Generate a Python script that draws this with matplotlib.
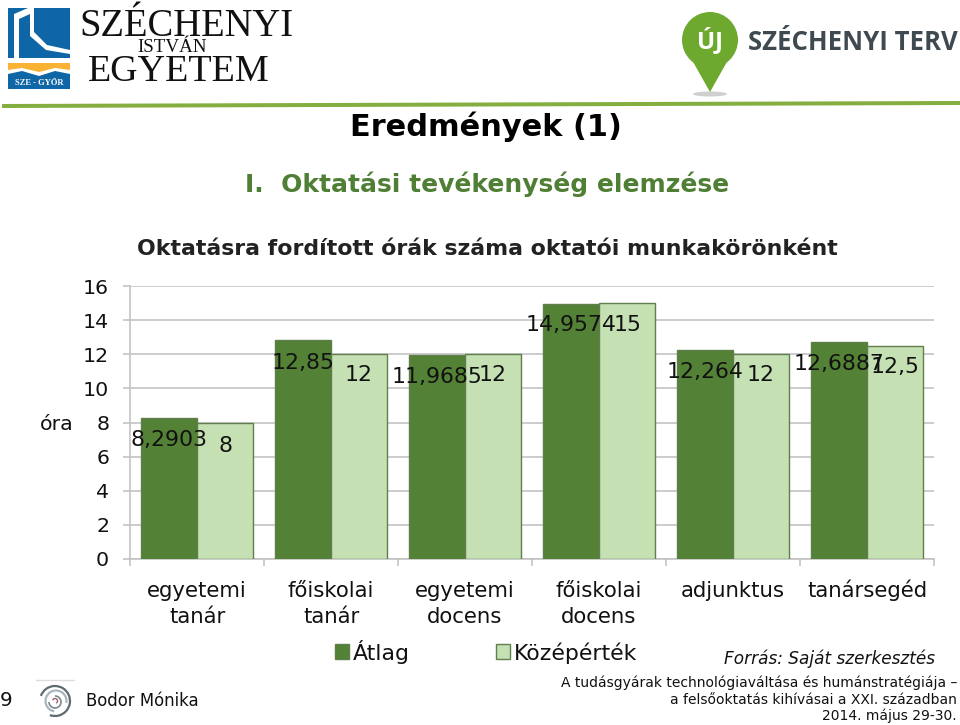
import numpy as np
import matplotlib
matplotlib.use('Agg')
import matplotlib.pyplot as plt
from matplotlib.patches import Rectangle, Circle, Polygon, Ellipse, Arc

kategoriak = ['egyetemi\ntanár', 'főiskolai\ntanár', 'egyetemi\ndocens',
              'főiskolai\ndocens', 'adjunktus', 'tanársegéd']
atlag = [8.2903, 12.85, 11.9685, 14.9574, 12.264, 12.6887]
kozeperek = [8, 12, 12, 15, 12, 12.5]
atlag_cimke = ['8,2903', '12,85', '11,9685', '14,9574', '12,264', '12,6887']
kozep_cimke = ['8', '12', '12', '15', '12', '12,5']
y_tick = list(range(0, 17, 2))

SOTET = '#538135'
VILAGOS = '#C5E0B3'
KERET = '#5F7F4C'
RACS = '#BFBFBF'
KEK = '#0F66A6'

W, H = 960, 725
plt.rcParams['font.family'] = ['DejaVu Sans']


def px(size):
    # pixel -> pont
    return size * 0.72


fig = plt.figure(figsize=(W / 100, H / 100), dpi=100, facecolor='white')

# Háttér réteg pixel koordinátákkal: logók, címek, lábléc
bg = fig.add_axes([0, 0, 1, 1])
bg.set_xlim(0, W)
bg.set_ylim(H, 0)
bg.axis('off')

# Széchenyi István Egyetem logó
bg.add_patch(Rectangle((8, 8), 62, 50, color=KEK, lw=0))
bg.add_patch(Polygon([(8, 58), (14, 58), (14, 14), (28, 8), (34, 8), (34, 32), (47, 45), (70, 50),
                      (70, 54), (46, 50), (30, 36), (30, 14), (19, 19), (19, 58), (8, 58)],
                     closed=True, color='white', lw=0))
bg.add_patch(Polygon([(8, 63), (70, 63), (70, 70), (55, 68), (39, 72), (22, 68), (8, 70)],
                     closed=True, color='#F9B233', lw=0))
bg.add_patch(Polygon([(8, 74), (22, 71), (39, 76), (55, 71), (70, 74), (70, 89), (8, 89)],
                     closed=True, color=KEK, lw=0))
bg.text(39, 83, 'SZE - GYŐR', color='white', fontsize=px(8.5), ha='center', va='center',
        family='Liberation Serif', weight='bold')
bg.text(79, 26, 'SZÉCHENYI', fontsize=px(38.5), ha='left', va='center', family='Liberation Serif',
        color='#111111')
bg.text(172, 47, 'ISTVÁN', fontsize=px(19), ha='center', va='center', family='Liberation Serif',
        color='#111111')
bg.text(179, 72, 'EGYETEM', fontsize=px(38), ha='center', va='center', family='Liberation Serif',
        color='#111111')

# Széchenyi Terv logó
bg.add_patch(Ellipse((710, 94), 34, 5, color='#CFCFCF', lw=0))
bg.add_patch(Circle((710, 40), 28, color='#6DA92F', lw=0))
bg.add_patch(Polygon([(692, 60), (728, 60), (710, 92)], closed=True, color='#6DA92F', lw=0))
bg.text(710, 41, 'ÚJ', color='white', fontsize=px(24), ha='center', va='center', family='Open Sans',
        weight='bold')
bg.text(748, 42, 'SZÉCHENYI TERV', color='#3F4A50', fontsize=px(25.7), ha='left', va='center',
        family='Open Sans', weight='bold')
bg.add_patch(Polygon([(2, 104), (960, 101), (960, 105), (2, 108)], closed=True, color='#84AE3F', lw=0))

# Címek
bg.text(486, 127, 'Eredmények (1)', fontsize=px(30.4), weight='bold', ha='center', va='center',
        color='black')
bg.text(487, 184, 'I.  Oktatási tevékenység elemzése', fontsize=px(25), weight='bold', ha='center',
        va='center', color='#4F7F35')
bg.text(487, 249, 'Oktatásra fordított órák száma oktatói munkakörönként', fontsize=px(22),
        weight='bold', ha='center', va='center', color='#222222')
bg.text(57, 424, 'óra', fontsize=px(20.5), ha='center', va='center', color='#111111')

# Lábléc
bg.text(6, 700, '9', fontsize=px(20), ha='center', va='center', color='#111111')
bg.plot([36, 74], [680, 680], color='#DDDDDD', lw=1)
for cx, cy, d, t1, t2, c, lw in [(55, 701, 30, 200, 110, '#5F6B72', 1.6),
                                 (56, 701, 21, 100, 10, '#A9B6BE', 1.6),
                                 (55, 702, 12, 270, 180, '#7C8890', 1.2),
                                 (55, 701, 5, 200, 60, '#A0606A', 1.0)]:
    bg.add_patch(Arc((cx, cy), d, d, theta1=t1, theta2=t2, color=c, lw=lw))
bg.text(86, 701, 'Bodor Mónika', fontsize=px(16.5), ha='left', va='center', color='#111111')
bg.text(829.5, 659, 'Forrás: Saját szerkesztés', fontsize=px(16.9), style='italic', ha='center',
        va='center', color='#111111')
bg.text(957, 683, 'A tudásgyárak technológiaváltása és humánstratégiája –', fontsize=px(13.9),
        ha='right', va='center', color='#111111')
bg.text(957, 700, 'a felsőoktatás kihívásai a XXI. században', fontsize=px(13.9), ha='right',
        va='center', color='#111111')
bg.text(957, 716, '2014. május 29-30.', fontsize=px(13.9), ha='right', va='center', color='#111111')

# Oszlopdiagram
ax = fig.add_axes([130 / W, 1 - 559 / H, 804 / W, 273 / H])
ax.patch.set_alpha(0)
x = np.arange(len(kategoriak))
szel = 56 / 134
ax.bar(x - szel / 2, atlag, szel, color=SOTET, edgecolor=KERET, linewidth=1, zorder=3, label='Átlag')
ax.bar(x + szel / 2, kozeperek, szel, color=VILAGOS, edgecolor=KERET, linewidth=1, zorder=3,
       label='Középérték')

# Címkék eltolása (pixelben) a hasáb tetejéhez képest
atlag_dy = [-22, -23, -22, -21, -22, -22]
kozep_dy = [-24, -21, -21, -22, -21, -21]
for i in range(len(x)):
    ax.annotate(atlag_cimke[i], (x[i] - szel / 2, atlag[i]), xytext=(0, atlag_dy[i] * 0.72),
                textcoords='offset points', ha='center', va='center', fontsize=px(22), zorder=5,
                color='#111111')
    ax.annotate(kozep_cimke[i], (x[i] + szel / 2, kozeperek[i]), xytext=(0, kozep_dy[i] * 0.72),
                textcoords='offset points', ha='center', va='center', fontsize=px(22), zorder=5,
                color='#111111')

ax.set_xlim(-0.5, len(x) - 0.5)
ax.set_ylim(0, 16)
ax.set_yticks(y_tick)
ax.set_xticks(np.arange(-0.5, len(x), 1))
ax.set_xticklabels([])
ax.tick_params(axis='y', labelsize=px(20.5), length=5, color=RACS, width=1.1, pad=10, labelcolor='#111111')
ax.tick_params(axis='x', length=5, color=RACS, width=1.1)
ax.yaxis.grid(True, color=RACS, linewidth=1.1, zorder=0)
ax.set_axisbelow(True)
for s in ['top', 'right']:
    ax.spines[s].set_visible(False)
for s in ['left', 'bottom']:
    ax.spines[s].set_color(RACS)
    ax.spines[s].set_linewidth(1.1)

# Kategória feliratok soronként, közös alapvonalon
for i, nev in enumerate(kategoriak):
    for j, sor in enumerate(nev.split('\n')):
        ax.annotate(sor, (x[i], 0), xytext=(0, (-38 - 26 * j) * 0.72), textcoords='offset points',
                    ha='center', va='baseline', fontsize=px(21.3), color='#111111')

# Jelmagyarázat
bg.add_patch(Rectangle((335, 644), 14, 15, fc=SOTET, ec=KERET, lw=1))
bg.text(353, 660, 'Átlag', fontsize=px(22), ha='left', va='baseline', color='#111111')
bg.add_patch(Rectangle((496, 644), 14, 15, fc=VILAGOS, ec=KERET, lw=1))
bg.text(514, 660, 'Középérték', fontsize=px(22), ha='left', va='baseline', color='#111111')

fig.savefig('out.png', dpi=100, facecolor='white')
